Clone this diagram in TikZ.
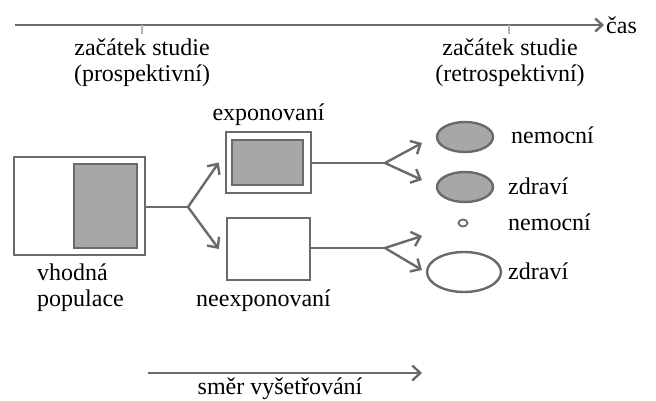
\documentclass[tikz,border=0pt]{standalone}
\usepackage{fontspec}
\setmainfont{Liberation Serif}
\usetikzlibrary{arrows.meta,shapes.geometric,positioning}
\definecolor{linegray}{HTML}{6A6A6A}
\definecolor{fillgray}{HTML}{A7A7A9}
\definecolor{tickgray}{HTML}{B4B4B4}

\begin{document}
\begin{tikzpicture}[
  x=1pt,y=-1pt,
  color=linegray,
  every node/.style={font=\fontsize{24}{26}\selectfont,text=black},
  every path/.style={line width=2.4pt},
  >={Straight Barb[length=8pt,width=15pt]},
  box/.style={draw,rectangle,inner sep=0pt},
  grp/.style={box,fill=fillgray},
  cohort/.style={draw,ellipse,inner sep=0pt},
  lbl/.style={inner sep=1pt},
  ]
  \useasboundingbox (0,0) rectangle (656,401);
  % time axis
  \coordinate(t-start) at (15,25);
  \coordinate(t-end) at (604,25);
  \draw[->,>={Straight Barb[length=7pt,width=13pt]}] (t-start) -- (t-end);
  \node(cas)[lbl,anchor=west] at (t-end) {čas};
  \coordinate(tick-p) at (142,25);
  \coordinate(tick-r) at (509,25);
  \draw[tickgray,line width=1.5pt] (tick-p) -- ++(0,9);
  \draw[tickgray,line width=1.5pt] (tick-r) -- ++(0,9);
  \node(start-p)[lbl,align=center] at (142,63) {začátek studie\\(prospektivní)};
  \node(start-r)[lbl,align=center] at (510,63) {začátek studie\\(retrospektivní)};

  % population and groups
  \node(pop)[box,minimum width=131pt,minimum height=98pt] at (79.5,206) {};
  \node(pop-in)[grp,minimum width=63pt,minimum height=84pt] at (105.5,206) {};
  \node(pop-lbl)[lbl,align=left,anchor=north west] at (35,262) {vhodná\\populace};

  \node(expo)[box,minimum width=85pt,minimum height=61pt] at (268.5,162.5) {};
  \node(expo-in)[grp,minimum width=71pt,minimum height=45pt] at (267.5,162.5) {};
  \node(expo-lbl)[lbl,above=3pt of expo] {exponovaní};
  \node(unexp)[box,minimum width=83pt,minimum height=62pt] at (268.5,249) {};
  \node(unexp-lbl)[lbl,below=6pt of unexp,xshift=-5pt] {neexponovaní};

  \coordinate(fork-a) at (188,207);
  \draw (pop.east|-fork-a) -- (fork-a);
  \draw[->] (fork-a) -- ([xshift=-6pt]expo.west);
  \draw[->] (fork-a) -- ([xshift=-7pt]unexp.west);

  % outcomes
  \node(sick-e)[cohort,fill=fillgray,minimum width=56pt,minimum height=30pt] at (465,137) {};
  \node(well-e)[cohort,fill=fillgray,minimum width=56pt,minimum height=30pt] at (465,187) {};
  \node(sick-u)[cohort,minimum width=9pt,minimum height=7pt,line width=1.8pt] at (463,223) {};
  \node(well-u)[cohort,minimum width=74pt,minimum height=40pt] at (464,272) {};
  \node(sick-e-lbl)[lbl,anchor=west] at (509,135) {nemocní};
  \node(well-e-lbl)[lbl,anchor=west] at (506,186) {zdraví};
  \node(sick-u-lbl)[lbl,anchor=west] at (506,222) {nemocní};
  \node(well-u-lbl)[lbl,anchor=west] at (506,271) {zdraví};

  \coordinate(fork-e) at (385,163);
  \coordinate(fork-u) at (385,248);
  \draw (expo.east|-fork-e) -- (fork-e);
  \draw (unexp.east|-fork-u) -- (fork-u);
  \draw[->] (fork-e) -- ++(37,-20);
  \draw[->] (fork-e) -- ++(37,17);
  \draw[->] (fork-u) -- ++(37,-12);
  \draw[->] (fork-u) -- ++(37,22);

  % direction of investigation
  \coordinate(dir-start) at (148,373);
  \coordinate(dir-end) at (422,373);
  \draw[->] (dir-start) -- (dir-end);
  \node(dir-lbl)[lbl] at (280,389) {směr vyšetřování};
\end{tikzpicture}
\end{document}
